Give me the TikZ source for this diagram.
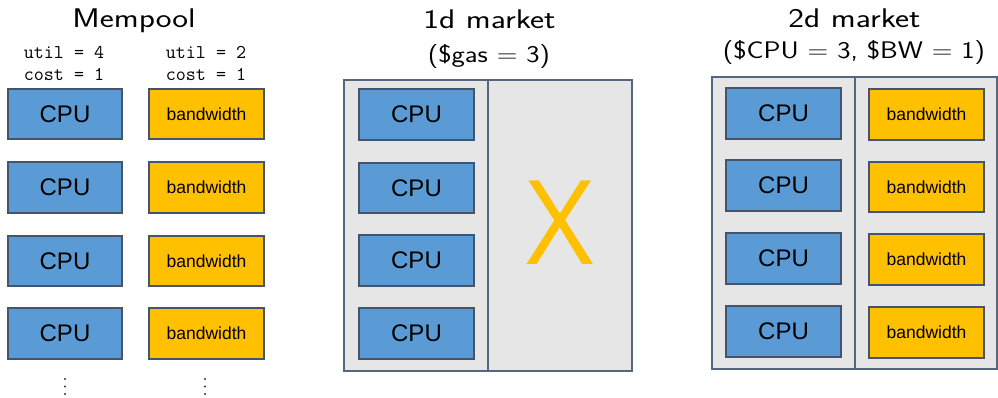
\documentclass[tikz,border=0pt]{standalone}
\usepackage{fontspec}
\newfontfamily\labelfont{Liberation Sans}
\newfontfamily\xfont{Open Sans}
\definecolor{cpublue}{HTML}{5A9BD5}
\definecolor{bwyellow}{HTML}{FFC000}
\definecolor{boxedge}{HTML}{44546A}
\definecolor{panelfill}{HTML}{E6E6E6}
\definecolor{paneledge}{HTML}{56667E}
\newcommand{\wideT}[1]{\scalebox{1.24}[1]{#1}}
\newcommand{\wideS}[1]{\scalebox{1.18}[1]{#1}}
\tikzset{
  unitbox/.style={draw=boxedge, line width=1.6pt, minimum width=114.5pt, minimum height=50.5pt, inner sep=0pt},
  cpubox/.style={unitbox, fill=cpublue, font=\labelfont\fontsize{24}{26}\selectfont},
  bwbox/.style={unitbox, fill=bwyellow, font=\labelfont\fontsize{17.5}{20}\selectfont},
  title/.style={anchor=base, inner sep=0pt, font=\sffamily\fontsize{27}{30}\selectfont},
  subtitle/.style={anchor=base, inner sep=0pt, font=\sffamily\fontsize{24}{28}\selectfont},
  param/.style={anchor=base, inner sep=0pt, font=\ttfamily\fontsize{19.5}{22}\selectfont},
  panel/.style={draw=paneledge, fill=panelfill, line width=1.4pt},
  ddot/.style={circle, fill=black!80, inner sep=0pt, minimum size=2.4pt}
}
\begin{document}
\begin{tikzpicture}[x=1pt,y=-1pt]
\useasboundingbox (0,0) rectangle (998,397);
% titles
\node[title] (tmem) at (134,27.5) {\wideT{Mempool}};
\node[title] (t1d) at (489.5,28) {\wideT{1d market}};
\node[subtitle] (s1d) at (489,62) {\wideS{(\$gas = 3)}};
\node[title] (t2d) at (854.5,27.5) {\wideT{2d market}};
\node[subtitle] (s2d) at (854,58) {\wideS{(\$CPU = 3, \$BW = 1)}};
% params
\node[param] (pu1) at (64,58) {util = 4};
\node[param] (pc1) at (64,80) {cost = 1};
\node[param] (pu2) at (206,58) {util = 2};
\node[param] (pc2) at (206,80) {cost = 1};
% mempool boxes
\node[cpubox] (mc1) at (65,114) {CPU};
\node[cpubox] (mc2) at (65,187.5) {CPU};
\node[cpubox] (mc3) at (65,261) {CPU};
\node[cpubox] (mc4) at (65,333.5) {CPU};
\node[bwbox] (mb1) at (206.5,114) {bandwidth};
\node[bwbox] (mb2) at (206.5,187.5) {bandwidth};
\node[bwbox] (mb3) at (206.5,261) {bandwidth};
\node[bwbox] (mb4) at (206.5,333.5) {bandwidth};
% dots
\foreach \yy [count=\i] in {379,386.5,394} {
  \node[ddot] (da\i) at (65,\yy) {};
  \node[ddot] (db\i) at (205,\yy) {};
}
% 1d market panel
\draw[panel] (344,80) rectangle (632,371);
\draw[paneledge, line width=1.4pt] (488,80) -- (488,371);
\node[cpubox] (oc1) at (416.5,114.5) {CPU};
\node[cpubox] (oc2) at (416.5,188) {CPU};
\node[cpubox] (oc3) at (416.5,260.5) {CPU};
\node[cpubox] (oc4) at (416.5,333.5) {CPU};
\node[text=bwyellow, inner sep=0pt, font=\xfont\fontsize{117}{120}\selectfont] (xx) at (560,223) {X};
% 2d market panel
\draw[panel] (712,77) rectangle (996.8,369);
\draw[paneledge, line width=1.4pt] (855,77) -- (855,369);
\node[cpubox] (tc1) at (783.5,113.5) {CPU};
\node[cpubox] (tc2) at (783.5,185.5) {CPU};
\node[cpubox] (tc3) at (783.5,258.5) {CPU};
\node[cpubox] (tc4) at (783.5,331.5) {CPU};
\node[bwbox] (tb1) at (926.5,114.5) {bandwidth};
\node[bwbox] (tb2) at (926.5,187) {bandwidth};
\node[bwbox] (tb3) at (926.5,259.5) {bandwidth};
\node[bwbox] (tb4) at (926.5,332.5) {bandwidth};
\end{tikzpicture}
\end{document}
